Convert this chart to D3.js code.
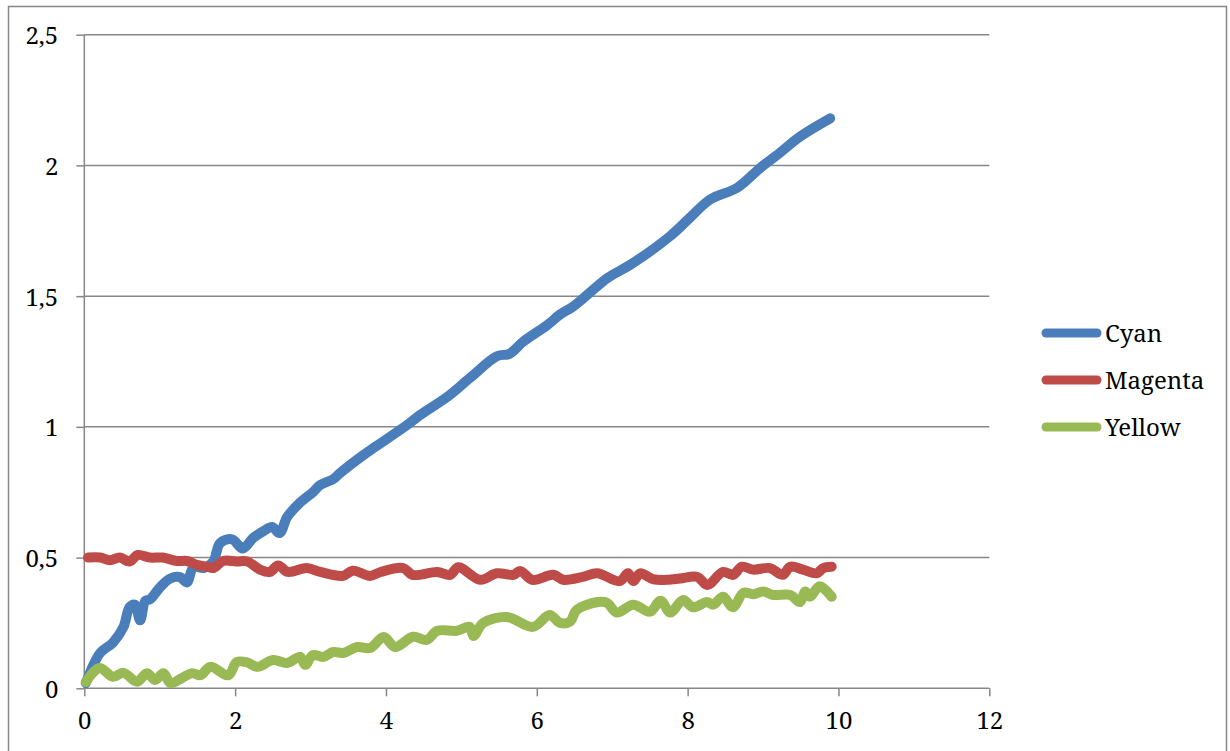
<!DOCTYPE html>
<html>
<head>
<meta charset="utf-8">
<script src="https://cdn.jsdelivr.net/npm/d3@7"></script>
<style>
html,body{margin:0;padding:0;background:#fff;}
svg{display:block;}
</style>
</head>
<body>
<svg id="chart" width="1230" height="751"></svg>
<script>
const seriesNames = ["Cyan", "Magenta", "Yellow"];
const seriesColors = ["#4A7EBB", "#BE4B48", "#98B954"];

const xTicks = [0, 2, 4, 6, 8, 10, 12];
const yTicks = [0, 0.5, 1, 1.5, 2, 2.5];
const yTickLabels = ["0", "0,5", "1", "1,5", "2", "2,5"];

const cyanX = [0.02,0.21,0.38,0.52,0.6,0.67,0.74,0.81,0.87,1.0,1.14,1.27,1.36,1.45,1.58,1.71,1.8,1.96,2.1,2.24,2.37,2.49,2.59,2.69,2.86,3.03,3.13,3.3,3.39,3.7,3.86,4.28,4.45,4.81,5.11,5.47,5.64,5.82,6.14,6.31,6.48,6.71,6.94,7.24,7.77,8.03,8.3,8.66,8.96,9.23,9.49,9.89];
const cyanY = [0.02,0.135,0.175,0.235,0.31,0.32,0.26,0.335,0.34,0.385,0.42,0.425,0.405,0.465,0.46,0.485,0.555,0.57,0.535,0.575,0.6,0.617,0.594,0.655,0.71,0.75,0.778,0.80,0.823,0.892,0.924,1.007,1.045,1.114,1.186,1.27,1.28,1.326,1.39,1.43,1.46,1.515,1.57,1.62,1.73,1.8,1.87,1.915,1.99,2.05,2.11,2.18];

const magentaX = [0.05,0.21,0.34,0.47,0.6,0.71,0.87,1.04,1.23,1.36,1.49,1.63,1.71,1.84,2.02,2.16,2.33,2.46,2.57,2.70,2.95,3.13,3.43,3.56,3.79,3.93,4.23,4.35,4.68,4.85,4.96,5.25,5.47,5.69,5.78,5.94,6.22,6.35,6.61,6.8,7.1,7.21,7.28,7.37,7.54,7.74,7.9,8.13,8.26,8.47,8.6,8.72,8.87,9.09,9.26,9.36,9.53,9.71,9.8,9.91];
const magentaY = [0.5,0.5,0.49,0.5,0.485,0.51,0.5,0.5,0.487,0.487,0.472,0.465,0.46,0.487,0.485,0.485,0.454,0.445,0.47,0.445,0.46,0.445,0.43,0.45,0.43,0.445,0.46,0.434,0.445,0.434,0.463,0.415,0.44,0.434,0.449,0.415,0.434,0.415,0.426,0.44,0.41,0.44,0.41,0.44,0.418,0.415,0.42,0.426,0.395,0.445,0.434,0.465,0.454,0.46,0.434,0.465,0.454,0.44,0.46,0.465];

const yellowX = [0.02,0.2,0.38,0.52,0.7,0.83,0.94,1.05,1.14,1.3,1.43,1.54,1.67,1.91,2.02,2.15,2.3,2.5,2.69,2.86,2.93,3.03,3.17,3.3,3.43,3.62,3.79,3.97,4.12,4.36,4.54,4.68,4.94,5.11,5.16,5.29,5.6,5.95,6.17,6.31,6.44,6.53,6.81,6.93,7.06,7.28,7.5,7.64,7.77,7.94,8.07,8.26,8.34,8.47,8.6,8.74,8.87,9.0,9.14,9.36,9.49,9.56,9.62,9.75,9.91];
const yellowY = [0.024,0.078,0.044,0.059,0.025,0.058,0.032,0.058,0.02,0.04,0.058,0.05,0.082,0.05,0.1,0.1,0.082,0.108,0.097,0.12,0.09,0.127,0.12,0.139,0.135,0.158,0.154,0.196,0.158,0.197,0.185,0.22,0.22,0.235,0.2,0.25,0.273,0.235,0.28,0.25,0.255,0.3,0.33,0.327,0.29,0.32,0.293,0.335,0.29,0.338,0.31,0.33,0.32,0.35,0.31,0.365,0.36,0.37,0.357,0.357,0.33,0.37,0.35,0.39,0.35];

const seriesX = [cyanX, magentaX, yellowX];
const seriesY = [cyanY, magentaY, yellowY];

const svg = d3.select("#chart");
const gridColor = "#878787";
const fontFam = "'Noto Serif', 'Liberation Serif', serif";
const fontSize = "24px";

// outer chart border
svg.append("rect")
  .attr("x", 8.5).attr("y", 6.5).attr("width", 1218).attr("height", 760)
  .attr("fill", "none").attr("stroke", gridColor).attr("stroke-width", 1.5);

const plotLeft = 84.3, plotRight = 989.3, plotTop = 34.7, plotBottom = 688.3;
const x = d3.scaleLinear().domain([0, 12]).range([plotLeft, plotRight]);
const y = d3.scaleLinear().domain([0, 2.5]).range([plotBottom, plotTop]);

// y axis with left tick extensions
const gy = svg.append("g")
  .attr("transform", `translate(${plotLeft},0)`)
  .call(d3.axisLeft(y).tickValues(yTicks).tickSize(8).tickPadding(18)
    .tickFormat((d, i) => yTickLabels[i]));
gy.select(".domain").attr("stroke", gridColor).attr("stroke-width", 1.5)
  .attr("d", `M0,${plotBottom}V${plotTop}`);
gy.selectAll(".tick line").attr("stroke", gridColor).attr("stroke-width", 1.5);
gy.selectAll(".tick text")
  .style("font-family", fontFam).style("font-size", fontSize)
  .attr("fill", "#000").attr("dy", "0.38em");

// horizontal gridlines
svg.append("g").selectAll("line").data(yTicks.filter(d => d > 0)).join("line")
  .attr("x1", plotLeft).attr("x2", plotRight)
  .attr("y1", d => y(d)).attr("y2", d => y(d))
  .attr("stroke", gridColor).attr("stroke-width", 1.5);

// x axis
const gx = svg.append("g")
  .attr("transform", `translate(0,${plotBottom})`)
  .call(d3.axisBottom(x).tickValues(xTicks).tickSize(8).tickPadding(16)
    .tickFormat(d3.format("d")));
gx.select(".domain").attr("stroke", gridColor).attr("stroke-width", 1.5)
  .attr("d", `M${plotLeft},0H${plotRight}`);
gx.selectAll(".tick line").attr("stroke", gridColor).attr("stroke-width", 1.5);
gx.selectAll(".tick text")
  .style("font-family", fontFam).style("font-size", fontSize)
  .attr("fill", "#000");

// series lines
const line = d3.line().x(d => x(d[0])).y(d => y(d[1])).curve(d3.curveCatmullRom.alpha(0.5));
seriesNames.forEach((name, i) => {
  const pts = seriesX[i].map((v, j) => [v, seriesY[i][j]]);
  svg.append("path")
    .datum(pts)
    .attr("d", line)
    .attr("fill", "none")
    .attr("stroke", seriesColors[i])
    .attr("stroke-width", 10)
    .attr("stroke-linejoin", "round")
    .attr("stroke-linecap", "round");
});

// legend
const legend = svg.append("g");
seriesNames.forEach((name, i) => {
  const ly = 333 + i * 47;
  legend.append("line")
    .attr("x1", 1046).attr("x2", 1097).attr("y1", ly).attr("y2", ly)
    .attr("stroke", seriesColors[i]).attr("stroke-width", 9)
    .attr("stroke-linecap", "round");
  legend.append("text")
    .attr("x", 1105).attr("y", ly + 9)
    .style("font-family", fontFam).style("font-size", fontSize)
    .attr("fill", "#000")
    .text(name);
});
</script>
</body>
</html>
